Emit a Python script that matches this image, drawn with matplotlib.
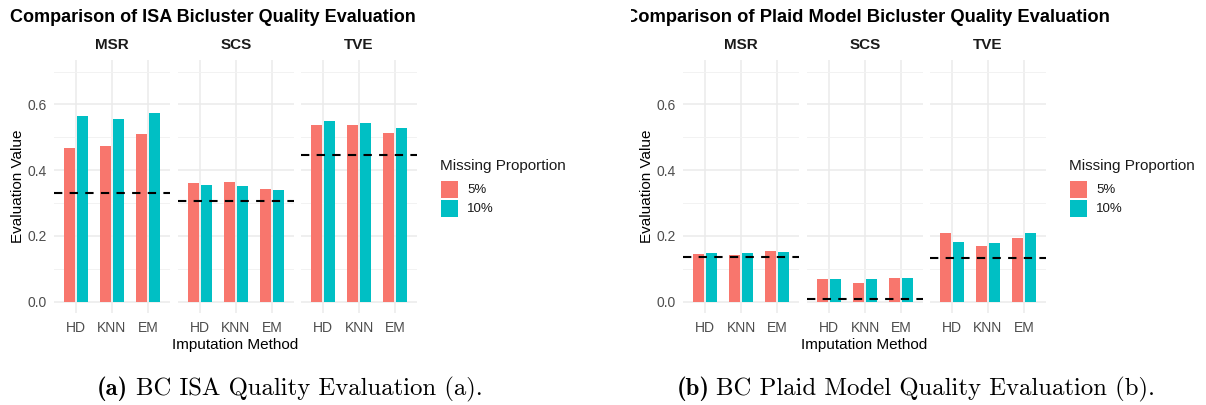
import numpy as np
import matplotlib
matplotlib.use("Agg")
import matplotlib.pyplot as plt
from matplotlib.patches import Rectangle

plt.rcParams['font.family'] = ['Liberation Sans', 'DejaVu Sans']

methods = ["HD", "KNN", "EM"]
metrics = ["MSR", "SCS", "TVE"]
props = ["5%", "10%"]

# rows = metrics (MSR, SCS, TVE), columns = methods (HD, KNN, EM)
isa_5 = [[0.466, 0.473, 0.511], [0.361, 0.365, 0.341], [0.536, 0.538, 0.513]]
isa_10 = [[0.564, 0.555, 0.575], [0.354, 0.352, 0.339], [0.549, 0.542, 0.527]]
isa_ref = [0.330, 0.305, 0.446]

plaid_5 = [[0.145, 0.143, 0.155], [0.070, 0.057, 0.072], [0.209, 0.170, 0.194]]
plaid_10 = [[0.149, 0.149, 0.151], [0.070, 0.068, 0.072], [0.182, 0.178, 0.210]]
plaid_ref = [0.136, 0.008, 0.131]

c5 = '#F8766D'
c10 = '#00BFC4'

W, H = 1206, 405
fig = plt.figure(figsize=(W / 100, H / 100), dpi=100)


def box(x0, y0, x1, y1):
    return [x0 / W, 1 - y1 / H, (x1 - x0) / W, (y1 - y0) / H]


def fx(x):
    return x / W


def fy(y):
    return 1 - y / H


def panel(ax, v5, v10, ref, name, show_y):
    x = np.arange(len(methods))
    ax.bar(x - 0.175, v5, 0.3, color=c5, zorder=2)
    ax.bar(x + 0.175, v10, 0.3, color=c10, zorder=2)
    ax.axhline(ref, color='black', lw=1.5, dashes=(4, 3.5), zorder=3)
    ax.set_xlim(-0.6, 2.6)
    ax.set_ylim(-0.035, 0.735)
    ax.set_xticks(x)
    ax.set_xticklabels(methods)
    ax.set_yticks([0, 0.2, 0.4, 0.6])
    ax.set_yticks([0.1, 0.3, 0.5, 0.7], minor=True)
    if show_y:
        ax.set_yticklabels(['0.0', '0.2', '0.4', '0.6'])
    else:
        ax.set_yticklabels([])
    ax.grid(which='major', color='#EBEBEB', lw=1.1, zorder=0)
    ax.grid(which='minor', axis='y', color='#F2F2F2', lw=0.7, zorder=0)
    for s in ax.spines.values():
        s.set_visible(False)
    ax.tick_params(which='both', length=0)
    ax.tick_params(axis='x', labelsize=10, labelcolor='#4D4D4D', pad=6)
    ax.tick_params(axis='y', labelsize=10, labelcolor='#4D4D4D', pad=5)
    ax.set_title(name, fontsize=11, fontweight='bold', color='#1A1A1A', pad=8)


def chart(x_off, v5s, v10s, refs, title, title_x, clip_left=None):
    lefts = [54, 178, 301]
    for i, m in enumerate(metrics):
        l = x_off + lefts[i]
        ax = fig.add_axes(box(l, 60, l + 116, 313))
        panel(ax, v5s[i], v10s[i], refs[i], m, i == 0)
    # y label
    fig.text(fx(x_off + 18), fy(186), "Evaluation Value", rotation=90,
             ha='center', va='center', fontsize=11)
    fig.text(fx(x_off + 235), fy(345), "Imputation Method",
             ha='center', va='center', fontsize=11)
    # title
    if clip_left is None:
        fig.text(fx(title_x), fy(17), title, ha='left', va='center',
                 fontsize=13, fontweight='bold')
    else:
        tax = fig.add_axes(box(clip_left, 0, W, 40))
        tax.axis('off')
        tax.text(fx(title_x), fy(17), title, ha='left', va='center',
                 fontsize=13.2, fontweight='bold', transform=fig.transFigure,
                 clip_on=True)
    # legend
    lx = x_off + 440
    fig.text(fx(lx), fy(166), "Missing Proportion", ha='left', va='center',
             fontsize=11, color='#1A1A1A')
    for j, (lab, col) in enumerate(zip(props, [c5, c10])):
        y0 = 181 + j * 19
        fig.add_artist(Rectangle((fx(lx + 1), fy(y0 + 17)), 17 / W, 17 / H,
                                 transform=fig.transFigure, color=col, lw=0))
        fig.text(fx(lx + 27), fy(y0 + 9), lab, ha='left', va='center',
                 fontsize=9.5, color='#1A1A1A')


chart(0, isa_5, isa_10, isa_ref,
      "Comparison of ISA Bicluster Quality Evaluation", 10)
chart(629, plaid_5, plaid_10, plaid_ref,
      "Comparison of Plaid Model Bicluster Quality Evaluation", 625,
      clip_left=631)

# captions
cap = 17.8
fig.text(fx(97), fy(395), "(a)", family='cmb10', fontsize=cap, va='baseline')
fig.text(fx(136), fy(395), "BC ISA Quality Evaluation (a).", family='cmr10',
         fontsize=cap, va='baseline')
fig.text(fx(677), fy(395), "(b)", family='cmb10', fontsize=cap, va='baseline')
fig.text(fx(716), fy(395), "BC Plaid Model Quality Evaluation (b).",
         family='cmr10', fontsize=cap, va='baseline')

fig.savefig("out.png", dpi=100, facecolor='white')
